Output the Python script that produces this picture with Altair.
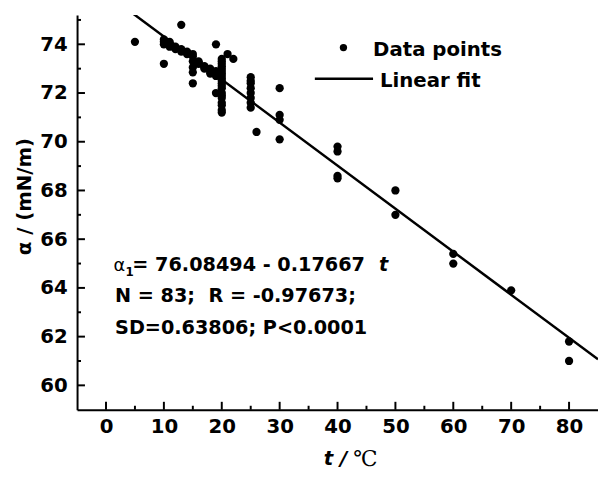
import altair as alt
import pandas as pd

# ---------------- data ----------------
t_values = [5,
            10, 10, 10, 10,
            11, 11, 11,
            12, 12, 12,
            13, 13, 13,
            14, 14, 14,
            15, 15, 15, 15, 15, 15,
            16, 16, 16,
            17, 17, 17,
            18, 18, 18, 18,
            19, 19, 19, 19,
            20, 20, 20, 20, 20, 20, 20, 20, 20, 20,
            20, 20, 20, 20, 20, 20, 20, 20, 20, 20,
            21, 22,
            25, 25, 25, 25, 25, 25, 25, 25,
            26,
            30, 30, 30, 30,
            40, 40, 40, 40,
            50, 50,
            60, 60,
            70,
            80, 80]
alpha_values = [74.1,
                74.2, 74.1, 74.0, 73.2,
                74.1, 74.0, 73.9,
                73.9, 73.85, 73.8,
                74.8, 73.8, 73.7,
                73.7, 73.65, 73.6,
                73.6, 73.5, 73.3, 73.05, 72.85, 72.4,
                73.3, 73.25, 73.2,
                73.1, 73.05, 73.0,
                73.0, 72.95, 72.9, 72.8,
                74.0, 72.9, 72.7, 72.0,
                73.4, 73.3, 73.2, 73.1, 73.0, 72.9, 72.8, 72.7, 72.6, 72.5,
                72.4, 72.3, 72.2, 72.0, 71.9, 71.8, 71.6, 71.5, 71.3, 71.2,
                73.6, 73.4,
                72.65, 72.5, 72.4, 72.2, 72.0, 71.8, 71.6, 71.4,
                70.4,
                72.2, 71.1, 70.9, 70.1,
                69.8, 69.6, 68.6, 68.5,
                68.0, 67.0,
                65.4, 65.0,
                63.9,
                61.8, 61.0]

fit_intercept = 76.08494
fit_slope = -0.17667
fit_t_range = [-5, 85]

x_major = [0, 10, 20, 30, 40, 50, 60, 70, 80]
x_minor = [5, 15, 25, 35, 45, 55, 65, 75]
y_major = [60, 62, 64, 66, 68, 70, 72, 74]
y_minor = [61, 63, 65, 67, 69, 71, 73, 75]

eq_prefix = "α"
eq_sub = "1"
eq_body = "= 76.08494 - 0.17667"
eq_var = "t"
stat_lines = ["N = 83; \u00a0R = -0.97673;", "SD=0.63806; P<0.0001"]
legend_labels = ["Data points", "Linear fit"]
y_title = "α / (mN/m)"
x_title_var = "t /"
x_title_unit = "℃"

# ---------------- chart ----------------
FONT = "DejaVu Sans"
W, H = 528, 400
xs = alt.Scale(domain=[-5, 85], nice=False, zero=False)
ys = alt.Scale(domain=[59, 75.2], nice=False, zero=False)

xax = alt.Axis(values=x_major, title=None, grid=False, ticks=False, tickSize=0,
               domainColor="black", domainWidth=2,
               labelFont=FONT, labelFontSize=20, labelFontWeight="bold",
               labelColor="black", labelBaseline="alphabetic", labelPadding=23,
               labelFlush=False)
yax = alt.Axis(values=y_major, title=None, grid=False, ticks=False, tickSize=0,
               domainColor="black", domainWidth=2,
               labelFont=FONT, labelFontSize=20, labelFontWeight="bold",
               labelColor="black", labelPadding=10, labelFlush=False)

pts = pd.DataFrame({"t": t_values, "a": alpha_values})
fit = pd.DataFrame({"t": fit_t_range,
                    "a": [fit_intercept + fit_slope * v for v in fit_t_range]})

points = alt.Chart(pts).mark_circle(size=70, color="black", opacity=1).encode(
    x=alt.X("t:Q", scale=xs, axis=xax),
    y=alt.Y("a:Q", scale=ys, axis=yax),
)
line = alt.Chart(fit).mark_line(color="black", strokeWidth=2.5, clip=True).encode(
    x=alt.X("t:Q", scale=xs, axis=xax),
    y=alt.Y("a:Q", scale=ys, axis=yax),
)

def xticks(vals, length):
    return alt.Chart(pd.DataFrame({"t": vals})).mark_rule(color="black", strokeWidth=2).encode(
        x=alt.X("t:Q", scale=xs, axis=xax),
        y=alt.value(H), y2=alt.value(H - length),
    )

def yticks(vals, length):
    return alt.Chart(pd.DataFrame({"a": vals})).mark_rule(color="black", strokeWidth=2).encode(
        y=alt.Y("a:Q", scale=ys, axis=yax),
        x=alt.value(0), x2=alt.value(length),
    )

def label(s, x, y, size=20, weight="bold", style="normal", font=FONT, align="left",
          angle=0, baseline="alphabetic"):
    return alt.Chart(pd.DataFrame({"s": [s]})).mark_text(
        align=align, baseline=baseline, font=font, fontSize=size, fontWeight=weight,
        fontStyle=style, color="black", angle=angle,
    ).encode(x=alt.value(x), y=alt.value(y), text="s:N")

legend_dot = alt.Chart(pd.DataFrame({"s": [legend_labels[0]]})).mark_circle(
    size=55, color="black", opacity=1).encode(x=alt.value(270), y=alt.value(33))
legend_line = alt.Chart(pd.DataFrame({"s": [legend_labels[1]]})).mark_rule(
    color="black", strokeWidth=2.5).encode(x=alt.value(241), x2=alt.value(300), y=alt.value(64.5))

layers = [
    line, points,
    xticks(x_major, 8), xticks(x_minor, 4),
    yticks(y_major, 8), yticks(y_minor, 4),
    legend_dot, legend_line,
    label(legend_labels[0], 300, 41, size=20),
    label(legend_labels[1], 307, 73, size=20),
    label(eq_prefix, 37, 259, size=18, weight="normal"),
    label(eq_sub, 49, 264, size=12),
    label(eq_body, 56, 259, size=19.5),
    label(eq_var, 306, 259, size=19.5, style="italic"),
    label(stat_lines[0], 38.5, 291, size=19.5),
    label(stat_lines[1], 38.5, 323, size=19.5),
    label(y_title, -53, 184, size=20, angle=270, align="center", baseline="middle"),
    label(x_title_var, 250, 456, size=20, style="italic"),
    label(x_title_unit, 280, 457, size=22, weight="normal", font="DejaVu Serif"),
]

chart = alt.layer(*layers).properties(
    width=W, height=H,
    autosize=alt.AutoSizeParams(type="none"),
    padding={"left": 70, "top": 4, "right": 0, "bottom": 62},
).configure_view(stroke=None)

chart.save("out.html", embed_options={"renderer": "svg", "actions": False})
